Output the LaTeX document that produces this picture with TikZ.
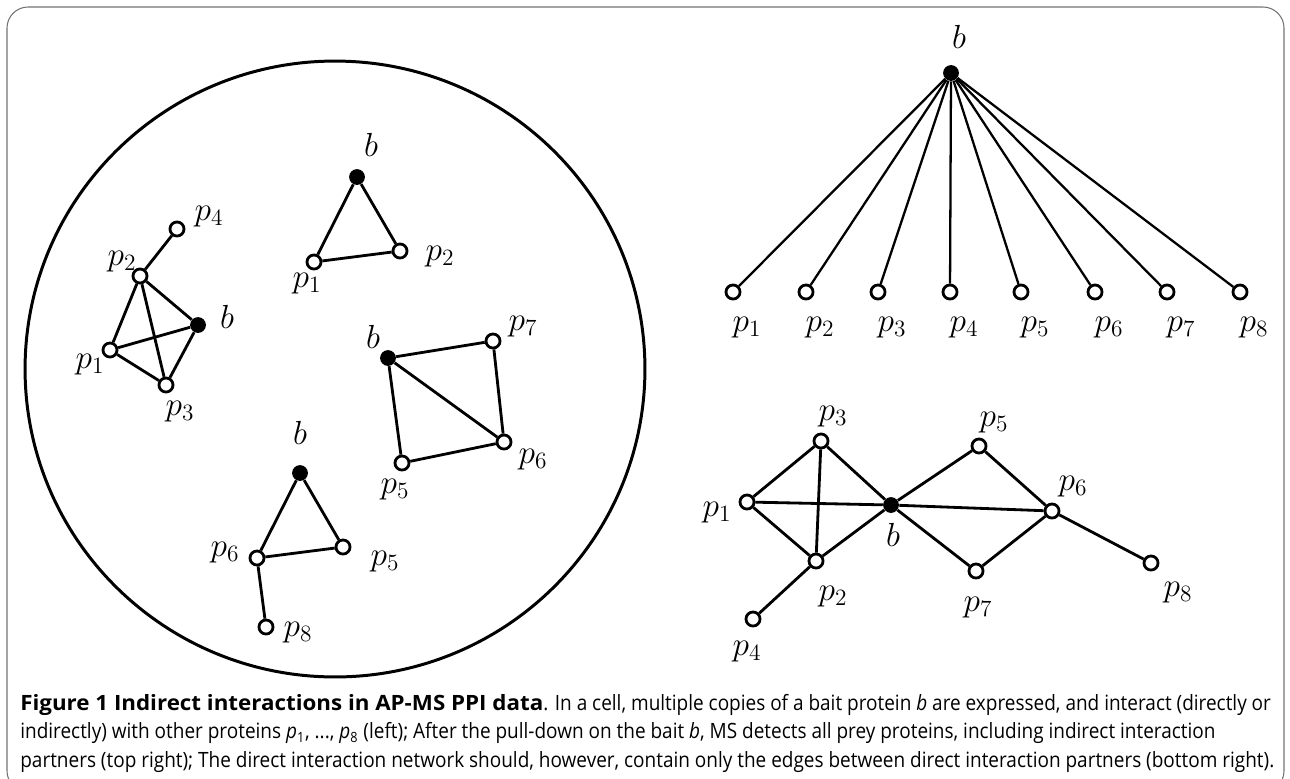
\RequirePackage{fix-cm}
\documentclass[tikz,border=0pt]{standalone}
\usepackage{fontspec}
\newfontfamily\capfont[FakeStretch=0.9]{Open Sans}
\newfontfamily\capbf[FakeStretch=1.06]{Open Sans}
\usetikzlibrary{positioning}
\tikzset{
  frame/.style={line width=0.6pt,black!55,rounded corners=12},
  cell/.style={line width=1.7pt},
  prey/.style={circle,draw,fill=white,inner sep=0pt,minimum size=8pt,line width=1.6pt},
  bait/.style={circle,fill=black,inner sep=0pt,minimum size=9pt},
  link/.style={line width=1.6pt},
  fan/.style={line width=1.3pt},
  lbl/.style={font=\fontsize{19}{23}\selectfont,inner sep=0pt},
  capt/.style={font=\capfont\fontsize{12}{16.2}\selectfont,align=left,inner sep=0pt},
}
\begin{document}
\begin{tikzpicture}[x=0.02cm,y=-0.02cm]
  \useasboundingbox (0,0) rectangle (1290,778);
  % outer frame
  \begin{scope}
    \clip (0,0) rectangle (1290,778);
    \draw[frame] (7,7) rectangle (1284,792);
  \end{scope}
  % left: the cell with copies of the bait
  \draw[cell] (335,369) ellipse [x radius=6.2cm,y radius=6.16cm];
  % copy 1
  \node[prey] (g1p4) at (177,229) {};
  \node[prey] (g1p2) at (140,276) {};
  \node[bait] (g1b)  at (198,325) {};
  \node[prey] (g1p1) at (110,350) {};
  \node[prey] (g1p3) at (166,385) {};
  \node[lbl] (g1l4) at (209,217) {$p_4$};
  \node[lbl] (g1l2) at (122,262) {$p_2$};
  \node[lbl] (g1lb) at (227,317) {$b$};
  \node[lbl] (g1l1) at (90,365) {$p_1$};
  \node[lbl] (g1l3) at (180,412) {$p_3$};
  \draw[link] (g1p4) -- (g1p2) -- (g1b) -- (g1p3) -- (g1p1) -- (g1p2) -- (g1p3);
  \draw[link] (g1p1) -- (g1b);
  % copy 2
  \node[bait] (g2b)  at (357,177) {};
  \node[prey] (g2p1) at (314,262) {};
  \node[prey] (g2p2) at (400,251) {};
  \node[lbl] (g2lb) at (371,145) {$b$};
  \node[lbl] (g2l1) at (307,284) {$p_1$};
  \node[lbl] (g2l2) at (440,257) {$p_2$};
  \draw[link] (g2b) -- (g2p1) -- (g2p2) -- (g2b);
  % copy 3
  \node[bait] (g3b)  at (388,358) {};
  \node[prey] (g3p7) at (493,341) {};
  \node[prey] (g3p6) at (504,442) {};
  \node[prey] (g3p5) at (402,463) {};
  \node[lbl] (g3lb) at (373,337) {$b$};
  \node[lbl] (g3l7) at (523,327) {$p_7$};
  \node[lbl] (g3l6) at (533,460) {$p_6$};
  \node[lbl] (g3l5) at (395,490) {$p_5$};
  \draw[link] (g3b) -- (g3p7) -- (g3p6) -- (g3p5) -- (g3b) -- (g3p6);
  % copy 4
  \node[bait] (g4b)  at (300,473) {};
  \node[prey] (g4p6) at (257,558) {};
  \node[prey] (g4p5) at (343,547) {};
  \node[prey] (g4p8) at (266,627) {};
  \node[lbl] (g4lb) at (300,433) {$b$};
  \node[lbl] (g4l6) at (225,553) {$p_6$};
  \node[lbl] (g4l5) at (385,562) {$p_5$};
  \node[lbl] (g4l8) at (298,633) {$p_8$};
  \draw[link] (g4b) -- (g4p6) -- (g4p5) -- (g4b);
  \draw[link] (g4p6) -- (g4p8);
  % top right: what MS detects
  \node[bait] (tb) at (951,73) {};
  \node[lbl] (tlb) at (959,37) {$b$};
  \foreach \i/\x in {1/733,2/806,3/878,4/950,5/1021,6/1095,7/1167,8/1240}{
    \node[prey] (tp\i) at (\x,292) {};
    \node[lbl] (tl\i) at (\x+14,328) {$p_{\i}$};
    \draw[fan] (tb) -- (tp\i);
  }
  % bottom right: direct interactions only
  \node[bait] (db)  at (891,505) {};
  \node[prey] (dp1) at (747,502) {};
  \node[prey] (dp2) at (816,561) {};
  \node[prey] (dp3) at (821,441) {};
  \node[prey] (dp4) at (753,619) {};
  \node[prey] (dp5) at (979,446) {};
  \node[prey] (dp6) at (1052,511) {};
  \node[prey] (dp7) at (976,571) {};
  \node[prey] (dp8) at (1151,563) {};
  \node[lbl] (dlb) at (893,535) {$b$};
  \node[lbl] (dl1) at (717,513) {$p_1$};
  \node[lbl] (dl2) at (833,597) {$p_2$};
  \node[lbl] (dl3) at (833,417) {$p_3$};
  \node[lbl] (dl4) at (747,652) {$p_4$};
  \node[lbl] (dl5) at (994,423) {$p_5$};
  \node[lbl] (dl6) at (1073,487) {$p_6$};
  \node[lbl] (dl7) at (978,608) {$p_7$};
  \node[lbl] (dl8) at (1178,593) {$p_8$};
  \draw[link] (dp1) -- (dp3) -- (db) -- (dp2) -- (dp1) -- (db) -- (dp6);
  \draw[link] (dp3) -- (dp2) -- (dp4);
  \draw[link] (db) -- (dp5) -- (dp6) -- (dp7) -- (db);
  \draw[link] (dp6) -- (dp8);
  % caption
  \node[capt,anchor=north west] (cap) at (20,694) {%
    {\capbf\bfseries Figure 1 Indirect interactions in AP-MS PPI data}. In a cell, multiple copies of a bait protein \textit{b} are expressed, and interact (directly or\\
    indirectly) with other proteins \textit{p}\textsubscript{1}, ..., \textit{p}\textsubscript{8} (left); After the pull-down on the bait \textit{b}, MS detects all prey proteins, including indirect interaction\\
    partners (top right); The direct interaction network should, however, contain only the edges between direct interaction partners (bottom right).};
\end{tikzpicture}
\end{document}
